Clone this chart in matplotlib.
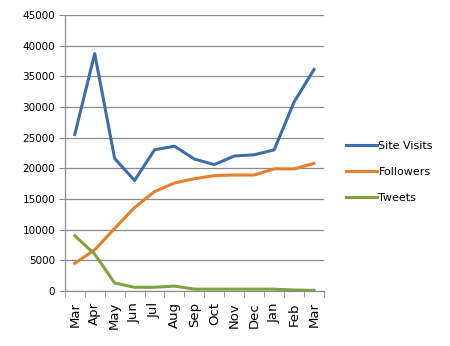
import numpy as np
import matplotlib
matplotlib.use("Agg")
import matplotlib.pyplot as plt

months = ["Mar", "Apr", "May", "Jun", "Jul", "Aug", "Sep", "Oct", "Nov", "Dec", "Jan", "Feb", "Mar"]
siteVisits = [25500, 38700, 21600, 18000, 23000, 23600, 21500, 20600, 22000, 22200, 23000, 30800, 36100]
followers = [4500, 6700, 10200, 13600, 16200, 17600, 18300, 18800, 18900, 18900, 19900, 19900, 20800]
tweets = [9000, 6000, 1300, 600, 600, 800, 300, 300, 300, 300, 300, 150, 100]

fig = plt.figure(figsize=(4.5, 3.46), dpi=100)
ax = fig.add_axes([0.144, 0.159, 0.576, 0.798])

x = np.arange(len(months))
ax.plot(x, siteVisits, color="#3F6DAA", lw=2.2, label="Site Visits", solid_joinstyle="round")
ax.plot(x, followers, color="#E5802F", lw=2.2, label="Followers", solid_joinstyle="round")
ax.plot(x, tweets, color="#7FA344", lw=2.2, label="Tweets", solid_joinstyle="round")

ax.set_xlim(-0.5, len(months) - 0.5)
ax.set_ylim(0, 45000)
ax.set_yticks(range(0, 45001, 5000))
ax.set_yticklabels([str(v) for v in range(0, 45001, 5000)], fontsize=7.5)
ax.yaxis.grid(True, color="#8C8C8C", lw=0.9)
ax.set_axisbelow(True)

ax.set_xticks(x)
ax.set_xticklabels(months, rotation=90, fontsize=9.5)
ax.tick_params(axis="x", length=0, pad=8)
ax.set_xticks(np.arange(-0.5, len(months), 1), minor=True)
ax.tick_params(axis="x", which="minor", length=4, color="#8C8C8C")
ax.tick_params(axis="y", length=4, color="#8C8C8C", pad=3)

for s in ["top", "right"]:
    ax.spines[s].set_visible(False)
for s in ["left", "bottom"]:
    ax.spines[s].set_color("#8C8C8C")
    ax.spines[s].set_linewidth(0.9)

ax.legend(loc="center left", bbox_to_anchor=(1.045, 0.43), frameon=False, fontsize=8,
          handlelength=2.8, handletextpad=0.15, labelspacing=1.45)

fig.savefig("out.png", dpi=100)
